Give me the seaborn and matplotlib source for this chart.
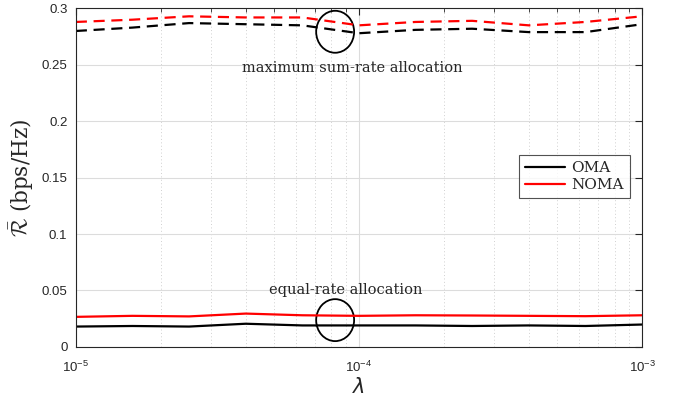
import numpy as np
import pandas as pd
import matplotlib
matplotlib.use("Agg")
import matplotlib.pyplot as plt
import seaborn as sns
from matplotlib.patches import Ellipse
from matplotlib.lines import Line2D

lam = [1e-5 * 10 ** (k / 5) for k in range(11)]
noma_max = [0.288, 0.290, 0.293, 0.292, 0.292, 0.285, 0.288, 0.289, 0.285, 0.288, 0.293]
oma_max = [0.280, 0.283, 0.287, 0.286, 0.285, 0.278, 0.281, 0.282, 0.279, 0.279, 0.286]
noma_eq = [0.0266, 0.0275, 0.0270, 0.0295, 0.0280, 0.0275, 0.0280, 0.0278, 0.0275, 0.0272, 0.0280]
oma_eq = [0.0180, 0.0185, 0.0180, 0.0205, 0.0190, 0.0190, 0.0190, 0.0185, 0.0190, 0.0185, 0.0198]

sns.set_style("white")
plt.rcParams["font.family"] = ["Liberation Sans", "DejaVu Sans"]

fig = plt.figure(figsize=(6.83, 4.01), dpi=100)
ax = fig.add_axes([0.111, 0.135, 0.829, 0.844])

series = [
    (oma_max, "black", (5, 3)),
    (noma_max, "red", (5, 3)),
    (oma_eq, "black", ""),
    (noma_eq, "red", ""),
]
for vals, col, dash in series:
    df = pd.DataFrame({"lam": lam, "R": vals})
    kw = dict(dashes=dash) if dash else {}
    sns.lineplot(data=df, x="lam", y="R", ax=ax, color=col, lw=1.6, **kw)

ax.set_xscale("log")
ax.set_xlim(1e-5, 1e-3)
ax.set_ylim(0, 0.3)
ax.set_yticks([0, 0.05, 0.1, 0.15, 0.2, 0.25, 0.3])
ax.set_yticklabels(["0", "0.05", "0.1", "0.15", "0.2", "0.25", "0.3"])
ax.grid(True, which="major", color="#dcdcdc", lw=0.8, ls="-")
ax.grid(True, which="minor", axis="x", color="#d0d0d0", lw=0.7, ls=(0, (1, 2.5)))
ax.tick_params(which="both", direction="in", top=True, right=True, labelsize=9.5, colors="#262626")
ax.tick_params(which="major", length=5)
ax.tick_params(which="minor", length=3)
ax.tick_params(axis="x", which="major", pad=9)
ax.tick_params(axis="y", which="major", pad=6)
for s in ax.spines.values():
    s.set_visible(True)
    s.set_color("#262626")
    s.set_linewidth(0.8)

ax.set_xlabel(r"$\lambda$", fontsize=15, math_fontfamily="dejavusans", labelpad=2)
ax.set_ylabel(r"$\bar{\mathcal{R}}$ (bps/Hz)", fontsize=15.5, family="DejaVu Serif",
              math_fontfamily="cm", labelpad=4)

ax.add_patch(Ellipse((0.458, 0.931), 0.067, 0.124, transform=ax.transAxes,
                     fill=False, ec="black", lw=1.3))
ax.add_patch(Ellipse((0.458, 0.079), 0.067, 0.124, transform=ax.transAxes,
                     fill=False, ec="black", lw=1.3))

ax.text(0.488, 0.825, "maximum sum-rate allocation", transform=ax.transAxes,
        ha="center", va="center", fontsize=10.5, family="DejaVu Serif", color="#262626")
ax.text(0.477, 0.169, "equal-rate allocation", transform=ax.transAxes,
        ha="center", va="center", fontsize=10.5, family="DejaVu Serif", color="#262626")

handles = [Line2D([], [], color="black", lw=1.6), Line2D([], [], color="red", lw=1.6)]
leg = ax.legend(handles, ["OMA", "NOMA"], loc="upper right", bbox_to_anchor=(0.992, 0.59),
                frameon=True, fancybox=False, prop={"family": "DejaVu Serif", "size": 11},
                handlelength=2.6, borderpad=0.4, labelspacing=0.2, handletextpad=0.4)
leg.get_frame().set_edgecolor("#262626")
leg.get_frame().set_linewidth(0.8)

fig.savefig("out.png", dpi=100)
